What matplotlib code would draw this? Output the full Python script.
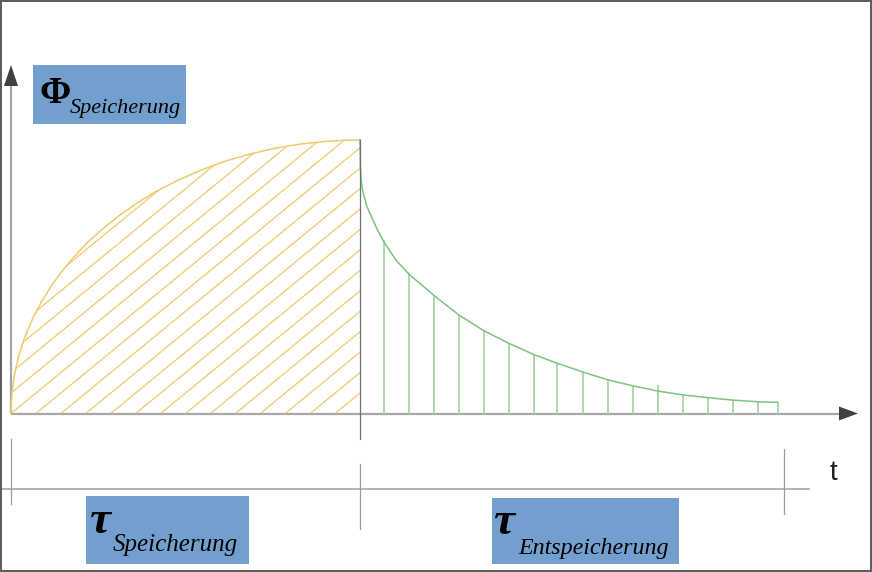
import matplotlib
matplotlib.use("Agg")
import matplotlib.pyplot as plt
from matplotlib.patches import Polygon, Rectangle
from matplotlib.collections import LineCollection
import numpy as np

# charging phase: t (arbitrary units), Phi in % of maximum
charge_t = [0, 0.02, 0.06, 0.12, 0.2, 0.3, 0.45, 0.65, 0.9, 1.2, 1.6, 2.0, 2.5, 3.0,
            3.6, 4.3, 5.0, 5.8, 6.7, 7.6, 8.6, 9.6, 10.6, 11.6, 12.6, 13.3, 14.0]
charge_phi = [0, 5.3, 9.2, 13.1, 16.8, 20.6, 25.2, 30.1, 35.3, 40.5, 46.4, 51.5, 57.0, 61.9,
              66.9, 72.1, 76.6, 81.1, 85.3, 88.9, 92.3, 94.9, 97.0, 98.5, 99.5, 99.9, 100]

# discharging phase
discharge_t = [14.0, 14.01, 14.02, 14.05, 14.10, 14.17, 14.26, 14.37, 14.64, 14.95,
               15.44, 15.98, 16.99, 17.97, 18.96, 19.96, 20.96, 21.9, 22.96, 23.95,
               24.95, 25.95, 26.95, 27.95, 28.95, 29.95, 30.76]
discharge_phi = [100, 92.7, 89.0, 85.0, 81.7, 79.2, 76.2, 73.7, 68.3, 62.8,
                 56.1, 50.8, 43.0, 36.0, 30.3, 25.7, 21.6, 18.4, 15.1, 12.3,
                 10.1, 8.2, 6.8, 5.8, 4.9, 4.3, 4.1]

# vertical hatch lines under the discharge curve
stem_t = [14.96, 15.96, 16.97, 17.97, 18.96, 19.96, 20.96, 21.9, 22.96, 23.95,
          24.95, 25.95, 26.95, 27.95, 28.95, 29.95, 30.76]
stem_phi = [63.4, 51.3, 43.0, 36.0, 30.3, 25.7, 21.6, 18.4, 15.1, 12.3,
            10.1, 10.4, 6.8, 5.8, 4.9, 4.3, 4.1]

# time marks on the lower time line
phase_t = [0, 14, 31]

# pixel scale of the drawing
W, H = 872, 572
X0, Y0 = 11, 413.5       # origin in pixels
T_PX, PHI_PX = 24.93, 2.735


def phi_of(py):
    return (Y0 - py) / PHI_PX


def t_of(px):
    return (px - X0) / T_PX


fig = plt.figure(figsize=(W / 100, H / 100), dpi=100)
ax = fig.add_axes([0, 0, 1, 1])
ax.set_xlim(t_of(0), t_of(W))
ax.set_ylim(phi_of(H), phi_of(0))
ax.axis("off")

ann = fig.add_axes([0, 0, 1, 1])
ann.set_xlim(0, W)
ann.set_ylim(H, 0)
ann.axis("off")
ann.patch.set_alpha(0)

orange = "#f0c870"
green = "#7cc47c"
axis_gray = "#a8a8a8"
box_blue = "#739fcf"

# axes of the diagram
ax.plot([0, 0], [0, phi_of(86)], color=axis_gray, lw=1.6, solid_capstyle="butt")
ax.plot([0, t_of(839)], [0, 0], color=axis_gray, lw=1.6, solid_capstyle="butt")
ann.add_patch(Polygon([[X0, 65], [X0 - 7, 86], [X0 + 7, 86]], closed=True,
                      color="#404040", lw=0))
ann.add_patch(Polygon([[858, Y0], [839, Y0 - 7], [839, Y0 + 7]], closed=True,
                      color="#404040", lw=0))

# charging area with diagonal hatch
area = Polygon(list(zip(charge_t, charge_phi)) + [(charge_t[-1], 0)], closed=True,
               facecolor="none", edgecolor="none", transform=ax.transData)
ax.add_patch(area)
slope = 0.82 * T_PX / PHI_PX
segs = [[(c, 0), (c + 110 / slope, 110)] for c in np.arange(-7, 14, 1.0)]
hatch = LineCollection(segs, colors=orange, linewidths=0.9)
ax.add_collection(hatch)
hatch.set_clip_path(area)
ax.plot(charge_t, charge_phi, color=orange, lw=1.1)

# discharging curve with vertical stems
ax.vlines(stem_t, 0, stem_phi, colors="#a6d8a6", lw=1.3)
ax.plot(discharge_t, discharge_phi, color=green, lw=1.1)

# divider between the phases
ax.plot([14, 14], [100, phi_of(439)], color="#707070", lw=0.9)

# lower time line
ax.plot([t_of(0), t_of(809)], [phi_of(489)] * 2, color=axis_gray, lw=1.2)
tick_top = [439, 464, 449]
for tt, top in zip(phase_t, tick_top):
    ax.plot([tt, tt], [phi_of(top), phi_of(top + 65)], color="#9a9a9a", lw=0.9)

ann.text(830, 480, "t", family="Liberation Sans", fontsize=20, color="#222222",
         ha="left", va="baseline")

# label boxes
ann.add_patch(Rectangle((33, 65), 153, 59, color=box_blue, lw=0))
ann.add_patch(Rectangle((86, 496), 163, 68, color=box_blue, lw=0))
ann.add_patch(Rectangle((492, 498), 187, 66, color=box_blue, lw=0))

ann.text(39, 103, "\u03a6", family="Liberation Serif", fontweight="bold",
         fontsize=27, color="black", ha="left", va="baseline")
ann.text(70, 113, "Speicherung", family="Liberation Serif", style="italic",
         fontsize=16, color="black", ha="left", va="baseline")

ann.text(89, 533, "\u03c4", family="Liberation Serif", fontweight="bold", style="italic",
         fontsize=34, color="black", ha="left", va="baseline")
ann.text(113, 551, "Speicherung", family="Liberation Serif", style="italic",
         fontsize=18, color="black", ha="left", va="baseline")

ann.text(493, 534, "\u03c4", family="Liberation Serif", fontweight="bold", style="italic",
         fontsize=34, color="black", ha="left", va="baseline")
ann.text(518, 554, "Entspeicherung", family="Liberation Serif", style="italic",
         fontsize=17.3, color="black", ha="left", va="baseline")

# outer frame
ann.add_patch(Rectangle((0.5, 0.5), W - 1.5, H - 1.5, fill=False,
                        edgecolor="#5a5a5a", lw=1.4))

fig.savefig("out.png", dpi=100)
